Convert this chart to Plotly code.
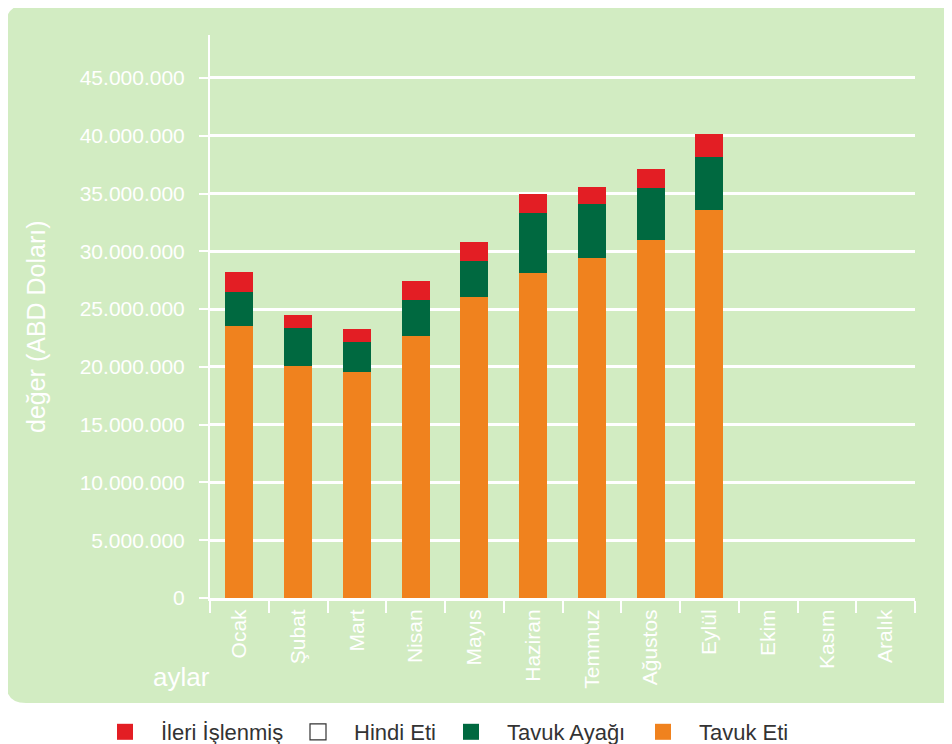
import plotly.graph_objects as go

months = ["Ocak", "Şubat", "Mart", "Nisan", "Mayıs", "Haziran", "Temmuz",
          "Ağustos", "Eylül", "Ekim", "Kasım", "Aralık"]
tavuk_eti = [23.54e6, 20.08e6, 19.56e6, 22.67e6, 26.05e6, 28.12e6, 29.42e6, 30.98e6, 33.58e6, None, None, None]
tavuk_ayagi = [2.94e6, 3.28e6, 2.59e6, 3.12e6, 3.11e6, 5.20e6, 4.67e6, 4.50e6, 4.58e6, None, None, None]
hindi_eti = [0, 0, 0, 0, 0, 0, 0, 0, 0, None, None, None]
ileri_islenmis = [1.72e6, 1.13e6, 1.13e6, 1.64e6, 1.65e6, 1.64e6, 1.48e6, 1.64e6, 1.99e6, None, None, None]
y_ticks = [0, 5e6, 10e6, 15e6, 20e6, 25e6, 30e6, 35e6, 40e6, 45e6]

ORANGE = "#f0821e"
GREEN = "#006940"
RED = "#e31e24"
BG = "#d2ecc2"
FONT = "Liberation Sans, Arial, sans-serif"
LEG_TXT = "#333333"

# page body has an 8px margin; figure sized to fit the window
OFF = 8
W, H = 952 - OFF, 744 - OFF
L, T = 210 - OFF, 35 - OFF
R = W - (915 - OFF)
B = H - (598 - OFF)
pw = W - L - R
ph = H - T - B


def px(x):  # reference pixel x -> paper
    return (x - OFF - L) / pw


def py(y):  # reference pixel y -> paper
    return (H - B - (y - OFF)) / ph


fig = go.Figure()
series = [
    ("Tavuk Eti", tavuk_eti, ORANGE, "legend4"),
    ("Tavuk Ayağı", tavuk_ayagi, GREEN, "legend3"),
    ("Hindi Eti", hindi_eti, "white", "legend2"),
    ("İleri İşlenmiş", ileri_islenmis, RED, "legend"),
]
for name, vals, col, _ in series:
    fig.add_bar(x=months, y=vals, name=name, marker_color=col, marker_line_width=0,
                showlegend=False)
# legend-only entries (square swatches)
for name, vals, col, leg in series:
    fig.add_scatter(x=[None], y=[None], mode="markers", name=name, legend=leg,
                    marker=dict(symbol="square", size=16, color=col,
                                line=dict(width=1.2 if col == "white" else 0, color="#333333")))

# rounded green background panel
x0, x1, y0, y1 = 6, 990, 5, 703
r = 20
path = (f"M {px(x0 + r)} {py(y0)} L {px(x1)} {py(y0)} L {px(x1)} {py(y1)} "
        f"L {px(x0 + r)} {py(y1)} Q {px(x0)} {py(y1)} {px(x0)} {py(y1 - r)} "
        f"L {px(x0)} {py(y0 + r)} Q {px(x0)} {py(y0)} {px(x0 + r)} {py(y0)} Z")
fig.add_shape(type="path", path=path, xref="paper", yref="paper",
              fillcolor=BG, line_width=0, layer="below")

IW = 62
sym_centers = {"legend": 125, "legend2": 318, "legend3": 471, "legend4": 663}
legends = {}
for key, cx in sym_centers.items():
    legends[key] = dict(orientation="h", x=px(cx - (IW + 10) / 2), xanchor="left",
                        y=py(732), yanchor="middle", itemwidth=IW,
                        font=dict(family=FONT, size=22, color=LEG_TXT),
                        bgcolor="rgba(0,0,0,0)", borderwidth=0)

fig.update_layout(
    width=W, height=H,
    margin=dict(l=L, r=R, t=T, b=B, autoexpand=False),
    paper_bgcolor="white",
    plot_bgcolor="rgba(0,0,0,0)",
    barmode="stack",
    bargap=0.52,
    separators=",.",
    showlegend=True,
    font=dict(family=FONT, color="white"),
    **legends,
)
fig.update_xaxes(
    type="category", range=[-0.5, 11.5], automargin=False,
    showline=True, linecolor="white", linewidth=3,
    ticks="outside", tickson="boundaries", ticklen=12, tickwidth=2, tickcolor="white",
    tickangle=-90, tickfont=dict(family=FONT, size=21, color="white"),
    showgrid=False, fixedrange=True,
)
fig.update_yaxes(
    range=[0, 48.72e6], automargin=False,
    tickvals=y_ticks, tickformat=",.0f",
    showline=True, linecolor="white", linewidth=2,
    ticks="outside", ticklen=9, tickwidth=2, tickcolor="white",
    ticklabelstandoff=10,
    tickfont=dict(family=FONT, size=21, color="white"),
    showgrid=True, gridcolor="white", gridwidth=3,
    zeroline=False, fixedrange=True,
)
fig.add_annotation(text="değer (ABD Doları)", x=px(36), y=py(327), xref="paper", yref="paper",
                   xanchor="center", yanchor="middle",
                   textangle=-90, showarrow=False, font=dict(family=FONT, size=25, color="white"))
fig.add_annotation(text="aylar", x=px(181), y=py(677), xref="paper", yref="paper",
                   xanchor="center", yanchor="middle",
                   showarrow=False, font=dict(family=FONT, size=26, color="white"))

fig.write_html("out.html")
